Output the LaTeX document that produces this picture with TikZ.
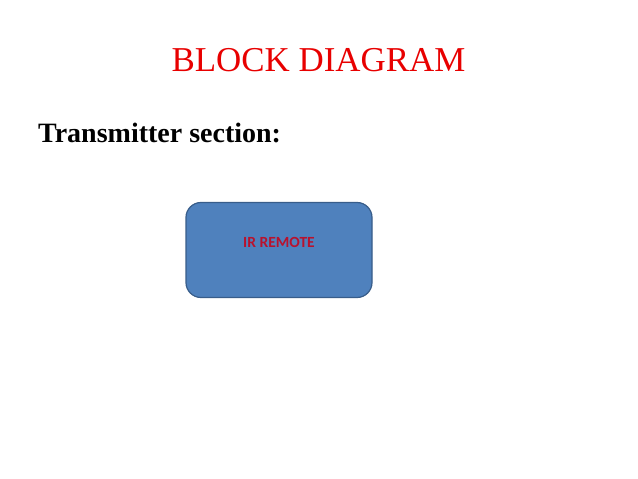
\documentclass[tikz,border=0pt]{standalone}
\usepackage{fontspec}
\setmainfont{Liberation Serif}
\newfontfamily\calibrifont{Carlito}
\definecolor{boxfill}{HTML}{4F81BD}
\definecolor{boxline}{HTML}{385D8A}
\definecolor{labelred}{HTML}{B8122E}
\definecolor{titlered}{HTML}{E80000}

\begin{document}
\begin{tikzpicture}[
  x=1pt, y=-1pt,
  block/.style={draw=boxline, line width=1.2pt, fill=boxfill, rounded corners=15pt,
    minimum width=186pt, minimum height=95pt, inner sep=0pt},
]

\useasboundingbox [fill=white] (0,0) rectangle (638,479);

\node (title) [anchor=base, inner sep=0pt, text=titlered, font=\fontsize{34.9}{38}\selectfont] at (318.5,71) {BLOCK DIAGRAM};
\node (section) [anchor=base west, inner sep=0pt, font=\bfseries\fontsize{28}{31}\selectfont] at (38,142) {Transmitter section:};

\node (remote) [block] at (279,250) {};
\node (remotelabel) [anchor=base, inner sep=0pt, text=labelred, font=\calibrifont\bfseries\fontsize{15.5}{17}\selectfont] at (279,247) {IR REMOTE};

\end{tikzpicture}
\end{document}
